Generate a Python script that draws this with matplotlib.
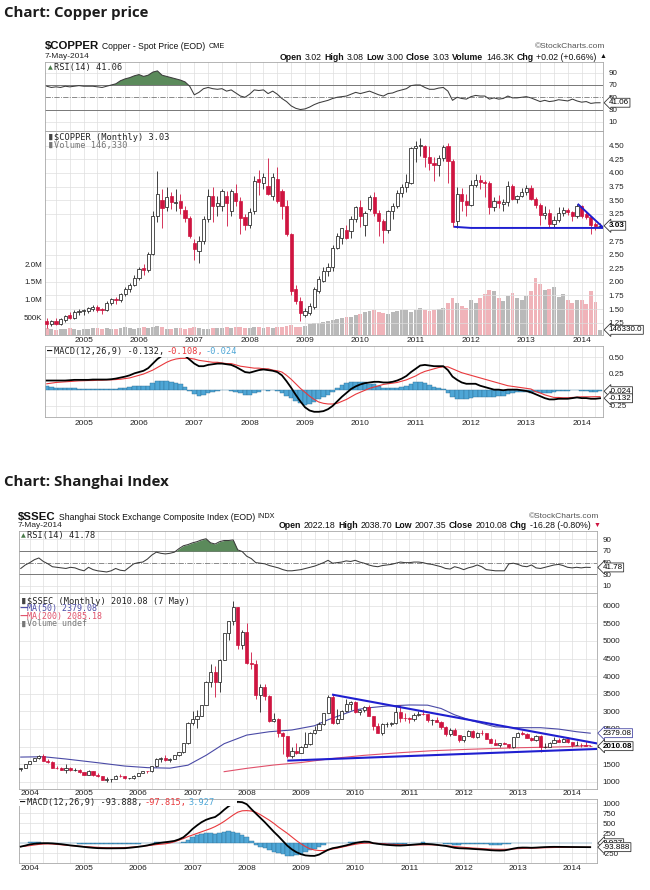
import numpy as np
import matplotlib
matplotlib.use("Agg")
import matplotlib.pyplot as plt
from matplotlib.patches import Rectangle

W, H = 650, 890
RED = '#cf1440'
BLUE_LINE = '#1f1fd0'
GRID = '#dedede'

# ---------- Copper, monthly May 2004 .. May 2014
cu_open = [1.28, 1.22, 1.28, 1.23, 1.30, 1.40, 1.34, 1.45,
           1.46, 1.47, 1.51, 1.53, 1.50, 1.48, 1.62, 1.69, 1.66, 1.77, 1.86, 1.95,
           2.07, 2.26, 2.21, 2.52, 3.21, 3.50, 3.38, 3.58, 3.44, 3.49, 3.32, 3.17,
           2.72, 2.57, 2.75, 3.15, 3.58, 3.40, 3.40, 3.58, 3.30, 3.64, 3.49, 3.19,
           3.05, 3.30, 3.88, 3.81, 3.76, 3.58, 3.89, 3.67, 3.40, 2.87, 1.86, 1.65,
           1.40, 1.43, 1.53, 1.83, 2.02, 2.20, 2.27, 2.63, 2.81, 2.95, 2.94, 3.15,
           3.37, 3.05, 3.33, 3.56, 3.26, 3.12, 2.95, 3.30, 3.40, 3.64, 3.74, 3.82,
           4.45, 4.49, 4.50, 4.30, 4.18, 4.14, 4.27, 4.50, 4.21, 3.12, 3.61, 3.48,
           3.41, 3.78, 3.87, 3.84, 3.82, 3.38, 3.49, 3.43, 3.46, 3.76, 3.53, 3.58,
           3.65, 3.72, 3.53, 3.41, 3.22, 3.27, 3.06, 3.13, 3.26, 3.32, 3.28, 3.20,
           3.40, 3.24, 3.19, 3.06, 3.02]
cu_high = [1.33, 1.30, 1.34, 1.34, 1.40, 1.45, 1.48, 1.50,
           1.50, 1.54, 1.57, 1.57, 1.52, 1.64, 1.71, 1.73, 1.80, 1.90, 1.98, 2.12,
           2.28, 2.32, 2.55, 3.30, 4.04, 3.70, 3.75, 3.65, 3.70, 3.62, 3.40, 3.20,
           2.78, 2.85, 3.20, 3.70, 3.75, 3.58, 3.70, 3.66, 3.70, 3.79, 3.55, 3.25,
           3.35, 3.95, 4.05, 4.00, 4.28, 4.00, 4.10, 3.70, 3.50, 2.90, 1.95, 1.72,
           1.52, 1.62, 1.90, 2.10, 2.28, 2.35, 2.68, 2.90, 2.99, 3.05, 3.20, 3.40,
           3.50, 3.30, 3.60, 3.65, 3.32, 3.15, 3.32, 3.45, 3.68, 3.80, 3.98, 4.47,
           4.58, 4.65, 4.52, 4.50, 4.30, 4.33, 4.52, 4.55, 4.25, 3.75, 3.73, 3.62,
           3.87, 3.98, 3.97, 3.87, 3.85, 3.55, 3.60, 3.53, 3.85, 3.80, 3.60, 3.72,
           3.78, 3.78, 3.55, 3.45, 3.40, 3.33, 3.20, 3.37, 3.38, 3.35, 3.30, 3.43,
           3.42, 3.30, 3.20, 3.10, 3.08]
cu_low = [1.16, 1.19, 1.20, 1.21, 1.27, 1.31, 1.32, 1.39,
          1.40, 1.43, 1.47, 1.45, 1.41, 1.46, 1.58, 1.60, 1.63, 1.74, 1.82, 1.92,
          2.03, 2.12, 2.18, 2.50, 3.10, 2.98, 3.30, 3.33, 3.30, 3.25, 3.10, 2.80,
          2.40, 2.35, 2.70, 3.10, 3.09, 3.20, 3.30, 3.03, 3.20, 3.40, 2.87, 2.95,
          2.98, 3.25, 3.60, 3.70, 3.60, 3.50, 3.45, 3.15, 2.85, 1.75, 1.60, 1.28,
          1.36, 1.40, 1.50, 1.80, 2.00, 2.10, 2.20, 2.60, 2.70, 2.78, 2.80, 3.10,
          3.00, 2.85, 3.30, 3.20, 2.85, 2.72, 2.90, 3.15, 3.35, 3.55, 3.65, 3.80,
          4.20, 4.32, 4.10, 4.05, 3.85, 3.95, 4.22, 3.82, 3.00, 2.98, 3.30, 3.20,
          3.40, 3.75, 3.70, 3.55, 3.25, 3.30, 3.35, 3.30, 3.40, 3.50, 3.45, 3.55,
          3.60, 3.50, 3.35, 3.05, 3.15, 3.00, 3.00, 3.10, 3.20, 3.22, 3.12, 3.18,
          3.18, 3.15, 2.87, 2.95, 3.00]
cu_close = [1.22, 1.28, 1.23, 1.31, 1.37, 1.34, 1.45, 1.47,
            1.48, 1.52, 1.53, 1.49, 1.48, 1.62, 1.68, 1.66, 1.77, 1.86, 1.95, 2.07,
            2.24, 2.21, 2.52, 3.21, 3.62, 3.35, 3.56, 3.46, 3.47, 3.35, 3.18, 2.84,
            2.60, 2.75, 3.15, 3.58, 3.40, 3.44, 3.66, 3.45, 3.66, 3.49, 3.18, 3.05,
            3.29, 3.86, 3.84, 3.92, 3.61, 3.92, 3.49, 3.40, 2.87, 1.83, 1.65, 1.43,
            1.46, 1.55, 1.86, 2.05, 2.20, 2.27, 2.63, 2.84, 2.98, 2.81, 3.15, 3.37,
            3.21, 3.26, 3.56, 3.26, 3.12, 2.95, 3.30, 3.40, 3.64, 3.74, 3.83, 4.45,
            4.49, 4.52, 4.30, 4.18, 4.14, 4.27, 4.48, 4.21, 3.09, 3.61, 3.48, 3.41,
            3.78, 3.87, 3.83, 3.82, 3.38, 3.49, 3.44, 3.46, 3.76, 3.53, 3.58, 3.65,
            3.72, 3.53, 3.41, 3.22, 3.27, 3.06, 3.13, 3.26, 3.32, 3.28, 3.20, 3.40,
            3.21, 3.19, 3.04, 3.03, 3.03]
cu_volume_k = [190, 160, 150, 180, 170, 200, 180, 150,
               170, 160, 200, 190, 170, 210, 180, 160, 200, 230, 190, 180,
               210, 220, 200, 230, 250, 220, 180, 170, 200, 210, 180, 190,
               220, 200, 180, 170, 210, 190, 200, 230, 200, 220, 240, 190,
               210, 230, 220, 200, 240, 210, 220, 230, 250, 270, 230, 240,
               260, 300, 330, 350, 370, 400, 420, 460, 470, 500, 520, 560,
               600, 640, 680, 720, 660, 620, 600, 640, 690, 720, 700, 650,
               700, 760, 720, 680, 700, 740, 760, 900, 1050, 900, 820, 760,
               980, 900, 1050, 1150, 1280, 1250, 1050, 950, 1100, 1200, 1050, 980,
               1100, 1250, 1620, 1450, 1280, 1300, 1350, 1080, 1150, 1000, 900, 980,
               1000, 880, 1250, 920, 146.33]
cu_rsi = [68, 66, 67, 66, 68, 67, 68, 69, 68, 68, 68, 67, 66,
          68, 70, 72, 77, 80, 82, 85, 87, 84, 86, 91, 93,
          86, 84, 82, 80, 78, 75, 68,
          54, 58, 64, 66, 64, 63, 64, 60, 62, 57, 52, 50, 55, 62, 61, 62, 56, 60, 55, 48, 43, 36, 32, 30,
          31, 34, 38, 41, 43, 45, 48, 50, 51, 52, 55, 58, 56, 58, 60, 57, 54, 52, 56, 57, 60, 62, 64, 69,
          70, 70, 66, 63, 63, 65, 66, 60, 45, 50, 48, 47, 51, 53, 52, 52, 47, 49, 47, 48, 52, 49, 49, 50,
          51, 49, 46, 43, 45, 43, 44, 46, 45, 44, 47, 44, 42, 43, 40, 41, 41.06]
cu_macd = [0.14, 0.14, 0.14, 0.14, 0.14, 0.145, 0.15, 0.15, 0.15, 0.15, 0.155, 0.155, 0.155,
           0.155, 0.16, 0.17, 0.185, 0.2, 0.22, 0.25, 0.27, 0.29, 0.33, 0.40, 0.47,
           0.52, 0.55, 0.56, 0.57, 0.56, 0.52, 0.46, 0.40, 0.36, 0.36, 0.38, 0.39, 0.40, 0.40, 0.39,
           0.38, 0.35, 0.31, 0.27, 0.26, 0.28, 0.30, 0.31, 0.30, 0.29, 0.27, 0.22, 0.13, 0.03, -0.08, -0.18,
           -0.27, -0.32, -0.34, -0.34, -0.33, -0.30, -0.25, -0.18, -0.11, -0.05, 0.01, 0.05, 0.08,
           0.10, 0.11, 0.12, 0.12, 0.11, 0.11, 0.12, 0.14, 0.17, 0.21, 0.27, 0.32,
           0.37, 0.38, 0.37, 0.36, 0.36, 0.36, 0.30, 0.20, 0.15, 0.11, 0.09, 0.09, 0.09, 0.06, 0.04,
           0.02, 0.0, 0.0, -0.01, 0.0, 0.0, 0.0, -0.01, -0.02, -0.04, -0.07, -0.10, -0.13, -0.15,
           -0.15, -0.14, -0.14, -0.14, -0.13, -0.12, -0.13, -0.13, -0.14, -0.14, -0.132]
cu_signal = [0.09, 0.10, 0.11, 0.115, 0.12, 0.125, 0.13, 0.135, 0.137, 0.14, 0.14, 0.145, 0.145,
             0.15, 0.15, 0.155, 0.16, 0.17, 0.18, 0.20, 0.22, 0.24, 0.27, 0.30, 0.34,
             0.38, 0.42, 0.45, 0.47, 0.48, 0.48, 0.48, 0.47, 0.45, 0.44, 0.43, 0.42, 0.42, 0.41, 0.40,
             0.40, 0.38, 0.36, 0.35, 0.34, 0.33, 0.33, 0.32, 0.32, 0.30, 0.29, 0.27, 0.22, 0.16, 0.09, 0.02,
             -0.04, -0.10, -0.15, -0.19, -0.21, -0.22, -0.22, -0.21, -0.18, -0.15, -0.11, -0.07, -0.04,
             -0.01, 0.02, 0.04, 0.06, 0.08, 0.09, 0.10, 0.11, 0.13, 0.15, 0.18, 0.21,
             0.25, 0.28, 0.30, 0.32, 0.34, 0.35, 0.35, 0.32, 0.29, 0.26, 0.24, 0.22, 0.20, 0.18, 0.16,
             0.14, 0.12, 0.10, 0.08, 0.06, 0.05, 0.04, 0.03, 0.02, 0.01, -0.03, -0.05, -0.08, -0.10,
             -0.12, -0.12, -0.125, -0.125, -0.12, -0.115, -0.11, -0.11, -0.11, -0.108, -0.108]
cu_years = ['2005', '2006', '2007', '2008', '2009', '2010', '2011', '2012', '2013', '2014']
cu_year_pos = [8, 20, 32, 44, 56, 68, 80, 92, 104, 116]
cu_flat_x = [88.5, 92, 120.7]
cu_flat_y = [3.01, 2.99, 2.99]
cu_fall_x = [115.3, 120.5]
cu_fall_y = [3.42, 3.01]

# ---------- Shanghai, monthly Nov 2003 .. May 2014
sh_open = [1348, 1397,
           1497, 1590, 1675, 1742, 1595, 1555, 1399, 1386, 1342, 1396, 1320, 1341,
           1266, 1191, 1306, 1181, 1159, 1060, 1080, 1083, 1162, 1155, 1092, 1099,
           1161, 1258, 1299, 1298, 1440, 1641, 1672, 1612, 1658, 1752, 1837, 2099,
           2675, 2786, 2881, 3183, 3841, 4109, 3820, 4471, 5219, 5552, 5955, 4871,
           5262, 4383, 4349, 3473, 3693, 3433, 2736, 2775, 2397, 2293, 1729, 1871,
           1821, 1991, 2082, 2373, 2477, 2633, 2959, 3413, 2667, 2779, 2996, 3195,
           3277, 2989, 3051, 3110, 2871, 2592, 2398, 2638, 2639, 2656, 2979, 2820,
           2808, 2791, 2905, 2928, 2911, 2743, 2762, 2701, 2568, 2359, 2468, 2333,
           2199, 2293, 2428, 2263, 2397, 2373, 2225, 2103, 2047, 2086, 2069, 1980,
           2269, 2385, 2366, 2237, 2178, 2301, 1979, 1994, 2098, 2175, 2142, 2221,
           2116, 2033, 2056, 2033, 2022.18]
sh_high = [1400, 1506,
           1597, 1686, 1760, 1783, 1640, 1580, 1445, 1420, 1490, 1430, 1400, 1350,
           1270, 1330, 1310, 1250, 1160, 1130, 1090, 1180, 1223, 1160, 1105, 1180,
           1260, 1305, 1310, 1445, 1680, 1705, 1757, 1660, 1760, 1850, 2100, 2700,
           2995, 3050, 3190, 3850, 4335, 4300, 4480, 5220, 5560, 6124, 5960, 5300,
           5522, 4690, 4470, 3790, 3790, 3450, 2950, 2800, 2400, 2300, 2000, 2100,
           2010, 2400, 2400, 2580, 2690, 2960, 3450, 3478, 3070, 3050, 3360, 3300,
           3300, 3060, 3160, 3180, 2880, 2660, 2680, 2710, 2700, 3160, 3186, 2940,
           2840, 2940, 3000, 3067, 2920, 2780, 2830, 2720, 2570, 2540, 2540, 2340,
           2300, 2480, 2480, 2400, 2460, 2390, 2240, 2200, 2100, 2130, 2070, 2280,
           2400, 2440, 2370, 2260, 2330, 2320, 2090, 2130, 2270, 2240, 2250, 2260,
           2120, 2170, 2090, 2150, 2038.70]
sh_low = [1307, 1380,
          1490, 1587, 1640, 1580, 1520, 1390, 1350, 1330, 1260, 1310, 1300, 1260,
          1177, 1185, 1165, 1130, 1043, 998, 1004, 1080, 1130, 1070, 1074, 1090,
          1160, 1250, 1260, 1290, 1430, 1560, 1600, 1560, 1640, 1740, 1820, 2070,
          2600, 2540, 2880, 3180, 3700, 3400, 3560, 4450, 5030, 5460, 4780, 4780,
          4330, 4195, 3357, 2990, 3330, 2690, 2710, 2284, 1800, 1664, 1680, 1800,
          1810, 1990, 2037, 2360, 2470, 2620, 2940, 2640, 2630, 2770, 2990, 3040,
          2950, 2890, 2990, 2880, 2480, 2380, 2319, 2560, 2570, 2650, 2700, 2720,
          2660, 2730, 2860, 2900, 2700, 2610, 2690, 2500, 2300, 2307, 2320, 2130,
          2132, 2290, 2240, 2250, 2340, 2220, 2100, 2040, 1999, 2060, 1950, 1960,
          2260, 2320, 2230, 2160, 2170, 1850, 1960, 1990, 2090, 2130, 2120, 2100,
          1990, 2030, 1974, 2010, 2007.35]
sh_close = [1397, 1497,
            1590, 1675, 1742, 1595, 1555, 1399, 1386, 1342, 1396, 1320, 1341, 1266,
            1191, 1306, 1181, 1159, 1060, 1080, 1083, 1162, 1155, 1092, 1099, 1161,
            1258, 1299, 1298, 1440, 1641, 1672, 1612, 1658, 1752, 1837, 2099, 2675,
            2786, 2881, 3183, 3841, 4109, 3820, 4471, 5219, 5552, 5955, 4871, 5262,
            4383, 4349, 3473, 3693, 3433, 2736, 2775, 2397, 2293, 1729, 1871, 1821,
            1991, 2082, 2373, 2477, 2633, 2959, 3413, 2667, 2779, 2996, 3195, 3277,
            2989, 3051, 3110, 2871, 2592, 2398, 2638, 2639, 2656, 2979, 2820, 2808,
            2791, 2905, 2928, 2911, 2743, 2762, 2701, 2568, 2359, 2468, 2333, 2199,
            2293, 2428, 2263, 2397, 2373, 2225, 2103, 2047, 2086, 2069, 1980, 2269,
            2385, 2366, 2237, 2178, 2301, 1979, 1994, 2098, 2175, 2142, 2221, 2116,
            2033, 2056, 2033, 2026, 2010.08]
sh_rsi = [40, 46, 50, 55, 58, 52, 48, 43, 42, 41, 40, 42, 41, 38, 36, 42, 38, 36, 35, 34,
          36, 40, 37, 36, 42, 48, 50, 51, 56, 63, 68, 66, 65, 66, 68, 74, 79, 81, 84, 86,
          89, 91, 84, 82, 86, 88, 88, 89, 72, 69, 61, 57, 50, 49, 48, 45, 43, 41, 38, 36,
          36, 37, 38, 40, 42, 44, 47, 50, 54, 49, 50, 51, 53, 52, 54, 51, 49, 46, 44, 43,
          45, 46, 47, 49, 51, 50, 50, 51, 51, 50, 48, 47, 45, 43, 40, 39, 43, 41, 38, 41,
          43, 46, 43, 38, 37, 36, 36, 36, 48, 49, 47, 44, 43, 46, 41, 40, 42, 44, 46, 47,
          45, 42, 41, 42, 41, 42, 41.78]
sh_macd = [-80, -55, -25, -10, 0, 5, 5, 0, -10, -20,
           -35, -50, -62, -75, -88, -100, -110, -118, -121, -123,
           -123, -122, -121, -120, -110, -98, -85, -70, -50, -25,
           0, 15, 30, 45, 62, 100, 154, 250, 360, 450,
           530, 590, 630, 660, 740, 840, 930, 1000, 1040, 1030,
           980, 860, 750, 640, 530, 410, 290, 180, 60, -60,
           -150, -220, -270, -300, -310, -312, -280, -220, -160, -120,
           -100, -75, -50, -20, 10, 30, 45, 40, 5, -10,
           -25, -37, -45, -52, -54, -48, -40, -30, -20, -12,
           -15, -22, -35, -50, -62, -85, -110, -121, -125, -130,
           -138, -145, -152, -160, -170, -176, -179, -175, -155, -130,
           -110, -104, -105, -110, -105, -98, -92, -88, -86, -87,
           -88, -89, -90, -91, -92, -93, -93.888]
sh_signal = [-80, -70, -55, -40, -25, -15, -12, -15, -25, -35,
             -45, -55, -62, -70, -78, -85, -92, -98, -104, -108,
             -110, -110, -108, -104, -98, -90, -80, -70, -58, -45,
             -30, -20, -10, 10, 40, 80, 120, 170, 210, 250,
             290, 330, 370, 420, 480, 550, 630, 710, 780, 815,
             820, 810, 780, 720, 650, 580, 500, 410, 330, 250,
             160, 70, -10, -80, -135, -165, -178, -180, -165, -140,
             -120, -95, -70, -45, -22, -5, 5, 8, 5, 0,
             -8, -15, -22, -28, -33, -37, -38, -38, -37, -36,
             -35, -36, -40, -48, -58, -68, -78, -88, -98, -108,
             -116, -122, -130, -137, -142, -146, -148, -148, -146, -140,
             -132, -126, -122, -120, -116, -112, -108, -105, -102, -100,
             -99, -98, -98, -98, -98, -98, -97.815]
sh_ma50_x = [0, 5, 10, 17, 23, 28, 33, 37, 41, 45, 50, 55, 60, 65, 68, 71, 74, 77,
             81, 86, 90, 93, 96, 100, 105, 109, 115, 119, 123, 126]
sh_ma50_y = [1700, 1710, 1645, 1540, 1445, 1400, 1385, 1470, 1750, 2080, 2325, 2420,
             2470, 2590, 2760, 2900, 3040, 3100, 3150, 3180, 3175, 3080, 2900, 2725,
             2560, 2535, 2535, 2495, 2420, 2379.08]
sh_ma200_x = [45, 50, 56, 62, 69, 76, 84, 91, 99, 105, 110, 116, 121, 126]
sh_ma200_y = [1285, 1380, 1475, 1545, 1660, 1750, 1825, 1880, 1920, 1945, 1965, 1980, 1995, 2025]
sh_years = ['2004', '2005', '2006', '2007', '2008', '2009', '2010', '2011', '2012', '2013', '2014']
sh_year_pos = [2, 14, 26, 38, 50, 62, 74, 86, 98, 110, 122]
sh_top_x = [69.1, 127.4]
sh_top_y = [3470, 2090]
sh_bot_x = [59.2, 127.4]
sh_bot_y = [1600, 1930]

fig = plt.figure(figsize=(W / 100, H / 100), dpi=100)
fig.patch.set_facecolor('white')
renderer = fig.canvas.get_renderer()


def pax(x0, y0, x1, y1):
    return fig.add_axes([x0 / W, 1 - y1 / H, (x1 - x0) / W, (y1 - y0) / H])


def ftext(x, y, s, **kw):
    kw.setdefault('va', 'center')
    return fig.text(x / W, 1 - y / H, s, **kw)


def chain(x, y, parts, right=None, gap=3, **common):
    texts = []
    total = 0
    for s, kw in parts:
        props = dict(common)
        props.update(kw)
        t = ftext(0, y, s, **props)
        w = t.get_window_extent(renderer=renderer).width
        texts.append((t, w))
        total += w + gap
    if right is not None:
        x = right - total + gap
    for t, w in texts:
        t.set_x(x / W)
        x += w + gap
    return x


def base_panel(ax, xlim, ylim, yticks, fmt, quarters, years_pos):
    ax.set_xlim(*xlim)
    ax.set_ylim(*ylim)
    for sp in ax.spines.values():
        sp.set_color('#a8a8a8')
        sp.set_linewidth(0.6)
    ax.yaxis.tick_right()
    ax.set_yticks(yticks)
    ax.set_yticklabels([fmt(v) for v in yticks])
    ax.tick_params(axis='y', length=0, pad=4, labelsize=5.8, labelcolor='#222222')
    ax.set_xticks(years_pos)
    ax.set_xticks(quarters, minor=True)
    ax.tick_params(axis='x', which='both', length=0, labelbottom=False)
    ax.grid(True, which='both', color=GRID, lw=0.5)
    ax.set_axisbelow(True)
    for lab in ax.get_yticklabels():
        lab.set_family('Liberation Sans')


def year_labels(ax, labels, pad):
    ax.set_xticklabels(labels)
    ax.tick_params(axis='x', which='major', labelbottom=True, labelsize=6, pad=pad,
                   labelcolor='#222222')
    for lab in ax.get_xticklabels():
        lab.set_family('Liberation Sans')


def candles(ax, o, h, l, c, width):
    o, h, l, c = map(np.asarray, (o, h, l, c))
    x = np.arange(len(c))
    up = c >= o
    ax.vlines(x[up], l[up], h[up], colors='#222222', lw=0.6, zorder=3)
    ax.vlines(x[~up], l[~up], h[~up], colors=RED, lw=0.6, zorder=3)
    ax.bar(x[up], (c - o)[up], bottom=o[up], width=width, facecolor='white',
           edgecolor='#222222', lw=0.55, zorder=4)
    ax.bar(x[~up], (o - c)[~up], bottom=c[~up], width=width, facecolor=RED,
           edgecolor=RED, lw=0.5, zorder=4)


def value_box(ax, y, s, bold=False, ec='#333333', dx=4):
    ax.annotate(s, xy=(1, y), xycoords=('axes fraction', 'data'), xytext=(dx, 0),
                textcoords='offset points', ha='left', va='center', fontsize=5.8,
                family='Liberation Sans', fontweight='bold' if bold else 'normal',
                bbox=dict(boxstyle='larrow,pad=0.12', fc='white', ec=ec, lw=0.6),
                annotation_clip=False, zorder=30)


def rsi_panel(ax, rsi, xlim, ylim, quarters, years_pos):
    rsi = np.asarray(rsi, dtype=float)
    x = np.arange(len(rsi))
    base_panel(ax, xlim, ylim, [10, 30, 50, 70, 90], lambda v: '%d' % v, quarters, years_pos)
    ax.grid(False, axis='y')
    for v in (10, 90):
        ax.axhline(v, color=GRID, lw=0.5, zorder=1)
    ax.axhline(70, color='#777777', lw=0.7, zorder=1)
    ax.axhline(30, color='#777777', lw=0.7, zorder=1)
    ax.axhline(50, color='#777777', lw=0.6, ls='-.', zorder=1)
    ax.fill_between(x, rsi, 70, where=rsi >= 70, interpolate=True, color='#5b8a5b',
                    lw=0, zorder=2)
    ax.plot(x, rsi, color='#3c3c3c', lw=0.75, zorder=3)
    value_box(ax, rsi[-1], '%.2f' % rsi[-1])


def macd_panel(ax, macd, sig, xlim, ylim, yticks, fmt, quarters, years_pos):
    macd = np.asarray(macd, dtype=float)
    sig = np.asarray(sig, dtype=float)
    hist = macd - sig
    x = np.arange(len(macd))
    base_panel(ax, xlim, ylim, yticks, fmt, quarters, years_pos)
    ax.bar(x, hist, width=1.0, facecolor='#4ea6d6', edgecolor='#2d6f97', lw=0.3, zorder=2)
    ax.plot(x, sig, color='#e8383c', lw=0.8, zorder=3)
    ax.plot(x, macd, color='black', lw=1.3, zorder=4)
    return hist


MONO = 'DejaVu Sans Mono'
SANS = 'Liberation Sans'

# =================== Copper ===================
ftext(4, 12.5, 'Chart: Copper price', fontsize=10.8, fontweight='bold',
      family='Open Sans', color='#1c1c1c')
chain(45, 46.5, [('$COPPER', dict(fontsize=8.2, fontweight='bold')),
                 ('Copper - Spot Price (EOD)', dict(fontsize=6.2)),
                 ('CME', dict(fontsize=5.2))], family=SANS, color='#111111')
ftext(605, 46.5, '\u00a9StockCharts.com', fontsize=6, family=SANS, color='#555555', ha='right')
ftext(45, 57, '7-May-2014', fontsize=6, family=SANS, color='#222222')
chain(0, 57, [('Open', dict(fontweight='bold')), ('%.2f' % cu_open[-1], {}),
              ('High', dict(fontweight='bold')), ('%.2f' % cu_high[-1], {}),
              ('Low', dict(fontweight='bold')), ('%.2f' % cu_low[-1], {}),
              ('Close', dict(fontweight='bold')), ('%.2f' % cu_close[-1], {}),
              ('Volume', dict(fontweight='bold')), ('%.1fK' % cu_volume_k[-1], {}),
              ('Chg', dict(fontweight='bold')), ('+0.02 (+0.66%)', {}),
              ('\u25b2', dict(fontsize=5))],
      right=606, gap=2.6, family=SANS, fontsize=6.3, color='#111111')

cu_xlim = (-0.4, 120.7)
cu_quarters = np.arange(2, 121, 3)

ax = pax(44.9, 62, 603.3, 131)
rsi_panel(ax, cu_rsi, cu_xlim, (-5, 107.5), cu_quarters, cu_year_pos)
ftext(48, 67.5, '\u25b2', fontsize=4.5, color='#4a7a4a')
ftext(54, 67.5, 'RSI(14) %.2f' % cu_rsi[-1], fontsize=6.2, family=MONO, color='#222222')

axp = pax(44.9, 131, 603.3, 335)
base_panel(axp, cu_xlim, (1.024, 4.77), [1.25, 1.50, 1.75, 2.00, 2.25, 2.50, 2.75,
                                         3.25, 3.50, 3.75, 4.00, 4.25, 4.50],
           lambda v: '%.2f' % v, cu_quarters, cu_year_pos)
year_labels(axp, cu_years, 1.5)
axv = axp.twinx()
axp.yaxis.tick_right()
axv.set_ylim(0, 5763)
axv.set_xlim(*cu_xlim)
up = np.asarray(cu_close) >= np.asarray(cu_open)
xv = np.arange(len(cu_volume_k))
axv.bar(xv, cu_volume_k, width=0.85, color=np.where(up, '#b9b9b9', '#f0b3b9'), lw=0)
axv.yaxis.tick_left()
axv.set_yticks([500, 1000, 1500, 2000])
axv.set_yticklabels(['500K', '1.0M', '1.5M', '2.0M'])
axv.tick_params(axis='y', length=0, pad=2, labelsize=5.8, labelcolor='#222222')
for lab in axv.get_yticklabels():
    lab.set_family(SANS)
for sp in axv.spines.values():
    sp.set_visible(False)
axp.set_zorder(axv.get_zorder() + 1)
axp.patch.set_visible(False)
candles(axp, cu_open, cu_high, cu_low, cu_close, 0.7)
axp.plot(cu_flat_x, cu_flat_y, color=BLUE_LINE, lw=1.4, zorder=6)
axp.plot(cu_fall_x, cu_fall_y, color=BLUE_LINE, lw=1.4, zorder=6)
value_box(axv, cu_volume_k[-1], '%.1f' % (cu_volume_k[-1] * 1000))
value_box(axp, cu_close[-1], '%.2f' % cu_close[-1], bold=True)
ftext(47, 137, '\u2590\u258c', fontsize=4, color='#444444')
ftext(54, 137, '$COPPER (Monthly) %.2f' % cu_close[-1], fontsize=6.2, family=MONO, color='#222222')
ftext(47, 145, '\u2590\u258c', fontsize=4, color='#777777')
ftext(54, 145, 'Volume 146,330', fontsize=6.2, family=MONO, color='#777777')

axm = pax(44.9, 346, 603.3, 417)
cu_hist = macd_panel(axm, cu_macd, cu_signal, cu_xlim, (-0.42, 0.67), [-0.25, 0.25, 0.50],
                     lambda v: '%.2f' % v, cu_quarters, cu_year_pos)
year_labels(axm, cu_years, 2)
value_box(axm, cu_hist[-1], '%.3f' % cu_hist[-1])
value_box(axm, cu_macd[-1], '%.3f' % cu_macd[-1])
fig.add_artist(Rectangle((45.5 / W, 1 - 357 / H), 205 / W, 10 / H, transform=fig.transFigure,
                         facecolor='white', edgecolor='none', zorder=2))
chain(47, 351.5, [('\u2014', dict(color='black', fontweight='bold')),
                  ('MACD(12,26,9) %.3f,' % cu_macd[-1], dict(color='#222222')),
                  ('%.3f,' % cu_signal[-1], dict(color='#e8383c')),
                  ('%.3f' % cu_hist[-1], dict(color='#4ea6d6'))],
      gap=2, family=MONO, fontsize=6.2, zorder=5)

# =================== Shanghai ===================
ftext(4, 482, 'Chart: Shanghai Index', fontsize=10.8, fontweight='bold',
      family='Open Sans', color='#1c1c1c')
chain(18, 517, [('$SSEC', dict(fontsize=8.2, fontweight='bold')),
                ('Shanghai Stock Exchange Composite Index (EOD)', dict(fontsize=6.2)),
                ('INDX', dict(fontsize=5.2))], family=SANS, color='#111111')
ftext(599, 517, '\u00a9StockCharts.com', fontsize=6, family=SANS, color='#555555', ha='right')
ftext(18, 525.5, '7-May-2014', fontsize=6, family=SANS, color='#222222')
chain(0, 525.5, [('Open', dict(fontweight='bold')), ('%.2f' % sh_open[-1], {}),
                 ('High', dict(fontweight='bold')), ('%.2f' % sh_high[-1], {}),
                 ('Low', dict(fontweight='bold')), ('%.2f' % sh_low[-1], {}),
                 ('Close', dict(fontweight='bold')), ('%.2f' % sh_close[-1], {}),
                 ('Chg', dict(fontweight='bold')), ('-16.28 (-0.80%)', {}),
                 ('\u25bc', dict(fontsize=5, color=RED))],
      right=600, gap=2.6, family=SANS, fontsize=6.3, color='#111111')

sh_xlim = (-0.5, 127.5)
sh_quarters = np.arange(2, 127, 3)

ax = pax(18.5, 531, 597, 593)
rsi_panel(ax, sh_rsi, sh_xlim, (-2.1, 104.3), sh_quarters, sh_year_pos)
ftext(21, 535.5, '\u25b2', fontsize=4.5, color='#4a7a4a')
ftext(27, 535.5, 'RSI(14) %.2f' % sh_rsi[-1], fontsize=6.2, family=MONO, color='#222222')

axp = pax(18.5, 593, 597, 789)
base_panel(axp, sh_xlim, (793, 6361), [1000, 1500, 2500, 3000, 3500, 4000, 4500, 5000, 5500, 6000],
           lambda v: '%d' % v, sh_quarters, sh_year_pos)
axp.set_yticks([2000], minor=True)
axp.grid(True, which='minor', axis='y', color=GRID, lw=0.5)
year_labels(axp, sh_years, 0.5)
axp.plot(sh_ma50_x, sh_ma50_y, color='#4a4aa6', lw=0.8, zorder=2)
axp.plot(sh_ma200_x, sh_ma200_y, color='#e0506a', lw=0.8, zorder=2)
candles(axp, sh_open, sh_high, sh_low, sh_close, 0.7)
axp.plot(sh_top_x, sh_top_y, color=BLUE_LINE, lw=1.5, zorder=6)
axp.plot(sh_bot_x, sh_bot_y, color=BLUE_LINE, lw=1.5, zorder=6)
value_box(axp, sh_ma50_y[-1], '%.2f' % sh_ma50_y[-1], ec='#4a4aa6')
value_box(axp, sh_close[-1], '%.2f' % sh_close[-1], bold=True)
ftext(20, 601, '\u2590\u258c', fontsize=4, color='#444444')
ftext(27, 601, '$SSEC (Monthly) %.2f (7 May)' % sh_close[-1], fontsize=6.2, family=MONO,
      color='#222222')
ftext(19, 608.5, '\u2014', fontsize=6, color='#4a4aa6', fontweight='bold')
ftext(27, 608.5, 'MA(50) 2379.08', fontsize=6.0, family=MONO, color='#4a4aa6')
ftext(19, 616, '\u2014', fontsize=6, color='#e0506a', fontweight='bold')
ftext(27, 616, 'MA(200) 2085.18', fontsize=6.0, family=MONO, color='#e0506a')
ftext(20, 623.5, '\u2590\u258c', fontsize=4, color='#777777')
ftext(27, 623.5, 'Volume undef', fontsize=6.0, family=MONO, color='#777777')

axm = pax(18.5, 799, 597, 863)
sh_hist = macd_panel(axm, sh_macd, sh_signal, sh_xlim, (-490, 1110), [-250, 250, 500, 750, 1000],
                     lambda v: '%d' % v, sh_quarters, sh_year_pos)
year_labels(axm, sh_years, 1.5)
value_box(axm, sh_hist[-1], '%.3f' % sh_hist[-1])
value_box(axm, sh_macd[-1], '%.3f' % sh_macd[-1])
fig.add_artist(Rectangle((19 / W, 1 - 806 / H), 218 / W, 6.5 / H, transform=fig.transFigure,
                         facecolor='white', edgecolor='none', zorder=2))
chain(20, 802.5, [('\u2014', dict(color='black', fontweight='bold')),
                  ('MACD(12,26,9) %.3f,' % sh_macd[-1], dict(color='#222222')),
                  ('%.3f,' % sh_signal[-1], dict(color='#e8383c')),
                  ('%.3f' % sh_hist[-1], dict(color='#4ea6d6'))],
      gap=2, family=MONO, fontsize=6.2, zorder=5)

fig.savefig('out.png', dpi=100, facecolor='white')
